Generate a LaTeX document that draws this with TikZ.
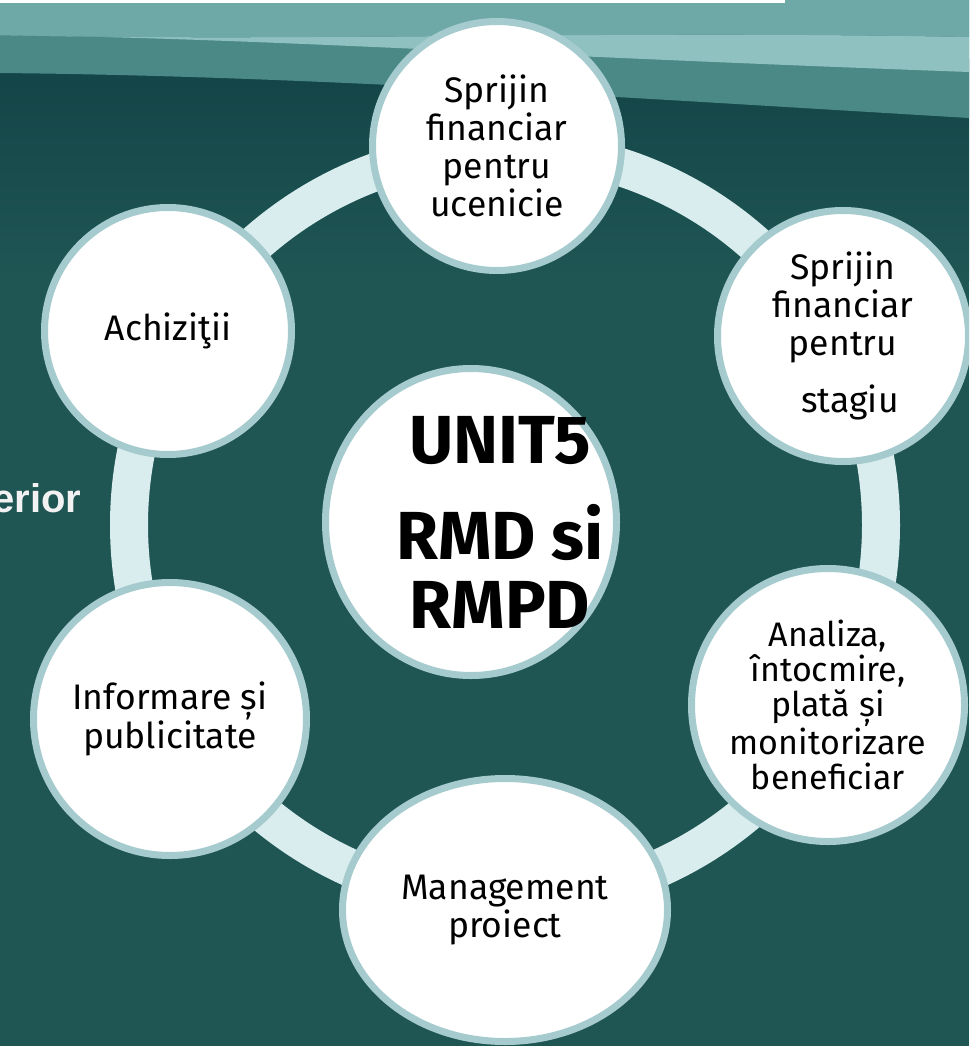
\documentclass[tikz,border=0pt]{standalone}
\usepackage{fontspec}
\setmainfont{Fira Sans}
\newfontfamily\sidefont{Liberation Sans}
\usetikzlibrary{shapes.geometric,shadows}
\definecolor{bgteal}{HTML}{1F5654}
\definecolor{banddeep}{HTML}{134447}
\definecolor{bandmid}{HTML}{4B8986}
\definecolor{bandlight}{HTML}{90C1C1}
\definecolor{bandtop}{HTML}{6EA8A7}
\definecolor{ringfill}{HTML}{D9EDEF}
\definecolor{rim}{HTML}{A6CBCE}
\tikzset{
    topic-circle/.style = {circle, draw=rim, line width=7pt, fill=white, inner sep=0pt, align=center, font=\fontsize{35.5}{38}\selectfont, drop shadow={shadow xshift=2pt, shadow yshift=-3pt, opacity=0.3}},
    topic-ellipse/.style = {topic-circle, ellipse},
    hub-title/.style = {align=center, font=\fontsize{68}{69}\selectfont\bfseries},
    ring-band/.style = {draw=ringfill, line width=38pt},
    side-label/.style = {text=white!95!black, font=\sidefont\bfseries\fontsize{40}{44}\selectfont},
}
\begin{document}
\begin{tikzpicture}[x=1pt,y=-1pt]
\useasboundingbox (0,0) rectangle (969,1046);
\clip (0,0) rectangle (969,1046);
\fill[bgteal] (0,0) rectangle (969,1046);
\fill[top color=banddeep, bottom color=bgteal] (0,60) rectangle (969,280);
\fill[bandmid] (0,0) -- (969,0) -- (969,118) .. controls (600,96) and (300,76) .. (0,73) -- cycle;
\fill[bandlight] (0,35) .. controls (250,38) and (500,55) .. (969,72) -- (969,37) .. controls (600,30) and (300,42) .. (0,35) -- cycle;
\fill[bandtop] (0,0) -- (969,0) -- (969,37) .. controls (600,30) and (300,42) .. (0,35) -- cycle;
\fill[white] (0,0) rectangle (785,3);

\node[side-label, anchor=base east] (side-text) at (85,512) {erior};

\coordinate (ring-centre) at (505,525);
\draw[ring-band] (ring-centre) circle[radius=376];

\node[topic-circle, minimum size=249pt] (ucenicie) at (497,146) {Sprijin\\ financiar\\ pentru\\ ucenicie};
\node[topic-circle, minimum size=251pt] (stagiu) at (843,336) {Sprijin\\ financiar\\ pentru\\[19pt] \hspace*{14pt}stagiu};
\node[topic-circle, minimum size=273pt, font=\fontsize{34}{35}\selectfont] (analiza) at (828,705) {Analiza,\\ întocmire,\\ plată și\\ monitorizare\\ beneficiar};
\node[topic-ellipse, minimum width=325pt, minimum height=263pt] (management) at (505,910) {Management\\ proiect};
\node[topic-circle, minimum size=273pt] (informare) at (170,719) {Informare și\\ publicitate};
\node[topic-circle, minimum size=247pt] (achizitii) at (168,331) {Achiziţii};

\node[topic-ellipse, minimum width=291pt, minimum height=307pt] (hub) at (471,522) {};
\node[hub-title] (hub-text) at (500,522) {UNIT5\\[27pt] RMD si\\ RMPD};
\end{tikzpicture}
\end{document}
